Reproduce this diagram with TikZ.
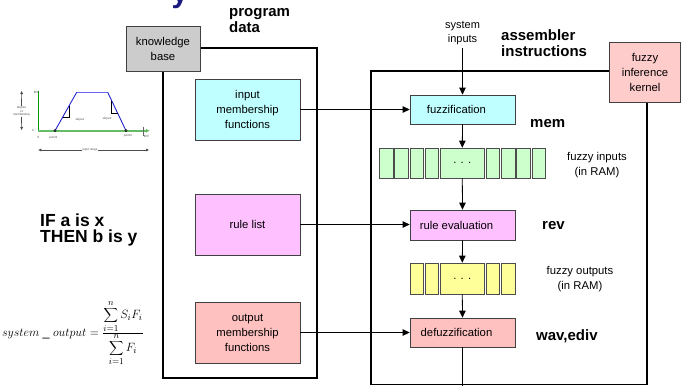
\documentclass[tikz,border=0pt]{standalone}
\usepackage{fontspec}
\setmainfont{Liberation Sans}
\usetikzlibrary{arrows.meta}
\definecolor{kbgray}{HTML}{CCCCCC}
\definecolor{cyanf}{HTML}{C0FFFF}
\definecolor{pinkf}{HTML}{FFC0FF}
\definecolor{salmonf}{HTML}{FFC0C0}
\definecolor{kernelf}{HTML}{FFCCCC}
\definecolor{greenf}{HTML}{CCFFCC}
\definecolor{yellowf}{HTML}{FFFF99}
\definecolor{navy}{HTML}{1A1A80}
\definecolor{axg}{HTML}{009900}
\definecolor{axlg}{HTML}{66BB66}
\definecolor{trapb}{HTML}{2222CC}
\definecolor{trapl}{HTML}{6666EE}
\begin{document}
\begin{tikzpicture}[x=1pt,y=-1pt,
  every node/.style={font=\fontsize{11.3}{15}\selectfont},
  box/.style={draw=black!75, line width=0.7pt, minimum width=105pt, inner sep=0pt, align=center},
  sbox/.style={draw=black!75, line width=0.7pt, minimum width=105pt, inner sep=0pt},
  frame/.style={draw=black, line width=1.5pt, inner sep=0pt},
  lbl/.style={font=\fontsize{15}{16}\bfseries\selectfont, inner sep=0pt, align=left},
  txt/.style={inner sep=0pt, align=center},
  cell/.style={draw=black!70, line width=0.6pt, minimum height=30pt, minimum width=13.5pt, inner sep=0pt},
  conn/.style={line width=0.8pt, -{Triangle[length=7pt,width=6.5pt]}},
  plain/.style={line width=0.8pt},
  tiny/.style={font=\fontsize{3}{3.6}\selectfont, inner sep=0.3pt, text=black!70, align=center},
  darr/.style={draw=black!70, line width=0.7pt, -{Triangle[length=3pt,width=2.6pt]}}
]
\useasboundingbox (0,0) rectangle (681,386);

% clipped title glyph
\node[anchor=base, inner sep=0pt, font=\fontsize{30}{30}\bfseries\selectfont, text=navy] (ttl) at (180,2.5) {y};

% frames
\node[frame, minimum width=154pt, minimum height=330pt] (pd) at (240,213) {};
\node[frame, minimum width=276pt, minimum height=313.5pt] (asm) at (509,227.75) {};

\node[box, fill=kbgray, minimum width=74pt, minimum height=45pt] (kb) at (163,48.5) {knowledge\\base};
\node[box, fill=kernelf, minimum width=71pt, minimum height=60pt] (fik) at (645,72) {fuzzy\\inference\\kernel};

% program data boxes
\node[box, fill=cyanf, minimum height=61pt] (imf) at (247.5,109.5) {input\\membership\\functions};
\node[box, fill=pinkf, minimum height=61pt] (rl) at (247.5,224.5) {rule list};
\node[box, fill=salmonf, minimum height=61pt] (omf) at (247.5,332.5) {output\\membership\\functions};

% assembler boxes
\node[sbox, fill=cyanf, minimum height=29pt] (fz) at (462.5,109.5) {\hspace*{-12pt}fuzzification};
\node[sbox, fill=pinkf, minimum height=30pt] (re) at (462.5,225) {\hspace*{-12pt}rule evaluation};
\node[sbox, fill=salmonf, minimum height=29pt] (dz) at (462.5,332.5) {\hspace*{-12pt}defuzzification};

% registers
\foreach \x/\n in {386.05/g1,401.3/g2,416.55/g3,431.8/g4,492.8/g6,508.05/g7,523.3/g8,538.55/g9}
  \node[cell, fill=greenf] (\n) at (\x,163) {};
\node[cell, fill=greenf, minimum width=44pt] (g5) at (462.3,163) {. . .};
\foreach \x/\n in {416.55/y1,431.8/y2,492.8/y4,508.05/y5}
  \node[cell, fill=yellowf, minimum height=31pt] (\n) at (\x,278.5) {};
\node[cell, fill=yellowf, minimum width=44pt, minimum height=31pt] (y3) at (462.3,278.5) {. . .};

% labels
\node[lbl, anchor=west] (pdl) at (229,21) {program\\data};
\node[lbl, anchor=west] (asl) at (501,43.5) {assembler\\instructions};
\node[lbl, anchor=base west] (meml) at (530,127) {mem};
\node[lbl, anchor=base west] (revl) at (542,229.5) {rev};
\node[lbl, anchor=base west] (wavl) at (536,340) {wav,ediv};
\node[txt, font=\fontsize{11}{14.5}\selectfont] (si) at (462.5,33) {system\\inputs};
\node[txt] (fin) at (597,165) {fuzzy inputs\\(in RAM)};
\node[txt] (fout) at (580,279) {fuzzy outputs\\(in RAM)};
\node[anchor=west, inner sep=0pt, align=left, font=\fontsize{17.5}{16.5}\bfseries\selectfont] (rule) at (40,230) {IF a is x\\THEN b is y};
\node[anchor=west, inner sep=0pt, font=\fontsize{12.5}{15}\selectfont] (form) at (2,333)
  {$system\;\_\;output=\frac{\displaystyle\sum_{i=1}^{n}S_iF_i}{\displaystyle\sum_{i=1}^{n}F_i}$};

% connectors
\draw[conn] ([yshift=-3pt]si.south) -- (fz.north);
\draw[conn] (fz.south) -- (g5.north);
\draw[conn] (g5.south) -- (re.north);
\draw[conn] (re.south) -- (y3.north);
\draw[conn] (y3.south) -- (dz.north);
\coordinate (bot) at (462.5,386);
\draw[plain] (dz.south) -- (bot);
\draw[conn] (imf.east) -- (imf.east -| fz.west);
\draw[conn] (rl.east) -- (rl.east -| re.west);
\draw[conn] (omf.east) -- (omf.east -| dz.west);

% membership function sketch
\draw[axg, line width=0.8pt] (38.3,91) -- (38.3,130.7);
\draw[axlg, line width=1.6pt, -{Triangle[length=3.5pt,width=3.5pt]}] (38.3,130.7) -- (149.5,130.7);
\draw[black!60, line width=0.6pt] (143.5,126.5) -- (143.5,136);
\draw[trapb, line width=0.9pt] (55,130.7) -- (76.7,92.3);
\draw[trapl, line width=1.6pt] (76.7,92.3) -- (107.7,92.3);
\draw[trapb, line width=0.9pt] (107.7,92.3) -- (126,130.7);
\draw[black, line width=0.5pt] (63,117) -- (69.7,117) -- (69.7,105.5);
\draw[black, line width=0.5pt] (111.7,101) -- (111.7,113.7) -- (118,113.7);
\draw[black, line width=0.4pt, fill=black!50] (55,130.7) circle (1.2pt);
\draw[black, line width=0.4pt, fill=black!50] (126,130.7) circle (1.2pt);
\node[tiny] (ffl) at (36.5,92.5) {\$FF};
\node[tiny] (dom) at (21.5,111.5) {degree\\of\\membership};
\draw[darr] (dom.north) -- (21.7,91);
\draw[darr] (dom.south) -- (21.7,130);
\node[tiny] (z1) at (33,130.5) {0};
\node[tiny] (z2) at (38.5,137) {0};
\node[tiny] (p1) at (53.5,137.5) {point1};
\node[tiny] (p2) at (128,136) {point2};
\node[tiny] (s1) at (80,119.5) {slope1};
\node[tiny] (s2) at (107,118.5) {slope2};
\node[tiny] (ffr) at (146.5,136.5) {\$FF};
\node[tiny] (ir) at (90,150) {input range};
\draw[darr] (ir.west) -- (38.3,150);
\draw[darr] (ir.east) -- (149,150);
\end{tikzpicture}
\end{document}
